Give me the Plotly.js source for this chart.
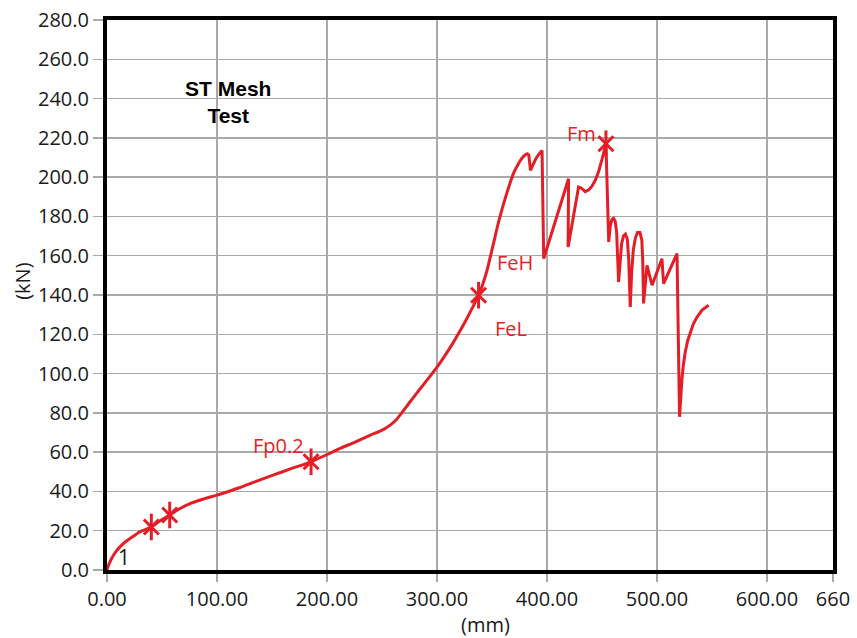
<!DOCTYPE html>
<html>
<head>
<meta charset="utf-8">
<script src="https://cdn.plot.ly/plotly-3.0.1.min.js"></script>
<style>
  html, body { margin: 0; padding: 0; background: #ffffff; }
  #chart { width: 857px; height: 638px; }
</style>
</head>
<body>
<div id="chart"></div>
<script>
// Force-extension curve of the ST mesh tensile test
const extension = [
  0, 1, 3, 6, 9, 12, 16, 21, 26, 30, 35, 40.3, 48, 57, 66, 76, 88, 100, 110, 121,
  135, 151.5, 168, 185.5, 200, 212, 225, 238, 251.5, 258, 263, 268, 274, 281.8,
  290, 300, 308, 315, 321, 327.3, 332, 337.8, 341, 345.5, 348.5, 351.5, 355, 359,
  363, 366.6, 370, 374.2, 377, 380, 383.3, 385, 387, 390, 393, 395.5, 397,
  419.6, 419.2, 428.7, 431, 434.8, 438, 441, 444, 447, 450, 453.6,
  456.1, 457.5, 459, 460.5, 462, 463.3, 465.1,
  466.3, 467.8, 469.5, 471.3, 473, 474.3, 475.7,
  477, 478.5, 480.3, 482.3, 484.5, 486.2, 487, 487.8,
  489.5, 490.9, 495.5, 504.5, 506, 518.2, 520.5,
  521.5, 522.7, 524, 525.7, 528, 530.3, 533, 536.4, 541, 546.9
];
const force = [
  0, 1.8, 4.5, 7.6, 10, 11.9, 14, 16.1, 18, 19.5, 20.6, 21.9, 25, 28, 31.2, 33.9, 36.2, 38.1, 39.9, 42.0,
  45.0, 48.4, 51.7, 55.1, 58.8, 61.9, 65, 68.3, 71.6, 74, 76.5, 80, 84.5, 90.2,
  96, 103.3, 109.8, 116, 121.8, 128.2, 133.3, 139.9, 144.5, 152.6, 159.5, 166.5, 175, 183.5,
  191, 197.3, 202.5, 207, 209.5, 211.3, 212, 203.5, 206, 209.5, 212, 213.6, 158.5,
  199.2, 164.4, 195, 194.5, 192.6, 193.5, 195.5, 198.5, 203, 209, 217,
  167, 175, 178.5, 179, 177.5, 172, 146.6,
  158, 166, 170, 171, 168.5, 158, 133.9,
  152, 163, 169, 171.8, 171.8, 168, 158, 135.7,
  148, 155.1, 145, 158.5, 145.8, 161.1, 78,
  89, 97.5, 104.5, 111, 117, 121.2, 125.2, 128.8, 132.3, 134.8
];

// Characteristic points marked on the curve
const keyExtension = [40.3, 57, 185.5, 337.8, 453.6];
const keyForce = [21.9, 28, 55.1, 139.9, 217];

// Point labels
const labelText = ['Fp0.2', 'FeH', 'FeL', 'Fm'];
const labelX = [155.7, 370.9, 367.1, 431.8];
const labelY = [63.6, 156.7, 123.1, 222.3];

// Axis ticks
const xTickVals = [0, 100, 200, 300, 400, 500, 600, 660];
const xTickText = ['0.00', '100.00', '200.00', '300.00', '400.00', '500.00', '600.00', '660'];

const RED = '#e31e26';
const GRID = '#a9a9a9';
const INK = '#1a1a1a';
const BASEFONT = 'Open Sans, sans-serif';
const TICKFONT = { family: BASEFONT, size: 20, color: INK };

// The smooth loading branch is drawn as a spline; from the first yield
// peak on, the serrated branch is drawn with straight segments.
const split = extension.indexOf(383.3);

const traces = [
  {
    x: extension.slice(0, split + 1), y: force.slice(0, split + 1),
    type: 'scatter', mode: 'lines',
    line: { color: RED, width: 3, shape: 'spline', smoothing: 1 },
    hoverinfo: 'x+y', showlegend: false
  },
  {
    x: extension.slice(split), y: force.slice(split),
    type: 'scatter', mode: 'lines',
    line: { color: RED, width: 3, shape: 'linear' },
    hoverinfo: 'x+y', showlegend: false
  },
  {
    x: keyExtension, y: keyForce, type: 'scatter', mode: 'markers',
    marker: { symbol: 'x-thin-open', size: 15, color: RED, line: { color: RED, width: 3 } },
    showlegend: false, hoverinfo: 'skip'
  },
  {
    x: keyExtension, y: keyForce, type: 'scatter', mode: 'markers',
    marker: { symbol: 'line-ns-open', size: 19, color: RED, line: { color: RED, width: 3 } },
    showlegend: false, hoverinfo: 'skip'
  }
];

const annotations = labelText.map((t, i) => ({
  text: t, x: labelX[i], y: labelY[i], xref: 'x', yref: 'y',
  showarrow: false, xanchor: 'center', yanchor: 'middle',
  font: { family: BASEFONT, size: 20, color: RED }
}));

// curve number tag near the origin
annotations.push({
  text: '1', x: 15.3, y: 6.6, xref: 'x', yref: 'y',
  showarrow: false, xanchor: 'center', yanchor: 'middle',
  font: { family: BASEFONT, size: 21, color: INK }
});

// axis titles
annotations.push({
  text: '(kN)', x: -0.116, y: (570 - 281) / 550, xref: 'paper', yref: 'paper',
  showarrow: false, textangle: -90, xanchor: 'center', yanchor: 'middle',
  font: { family: BASEFONT, size: 20, color: INK }
});
annotations.push({
  text: '(mm)', x: (485 - 107) / 726, y: -(624 - 570) / 550, xref: 'paper', yref: 'paper',
  showarrow: false, xanchor: 'center', yanchor: 'middle',
  font: { family: BASEFONT, size: 20, color: INK }
});

const layout = {
  width: 857, height: 638,
  margin: { l: 107, r: 24, t: 20, b: 68 },
  paper_bgcolor: '#ffffff', plot_bgcolor: '#ffffff',
  title: {
    text: '<b>ST Mesh<br>Test</b>',
    x: 0.167, xref: 'paper', xanchor: 'center',
    y: 0.85, yref: 'container', yanchor: 'middle',
    font: { family: 'Liberation Sans, Arial, sans-serif', size: 21, color: '#000000' }
  },
  xaxis: {
    range: [0, 660], tickmode: 'array', tickvals: xTickVals, ticktext: xTickText,
    showgrid: true, gridcolor: GRID, gridwidth: 1.5, zeroline: false,
    showline: true, linecolor: '#000000', linewidth: 4, mirror: true,
    ticks: 'outside', ticklen: 8, tickcolor: GRID, tickwidth: 1.5,
    tickfont: TICKFONT
  },
  yaxis: {
    range: [0, 280], dtick: 20, tick0: 0, tickformat: '.1f',
    showgrid: true, gridcolor: GRID, gridwidth: 1.5, zeroline: false,
    showline: true, linecolor: '#000000', linewidth: 4, mirror: true,
    ticks: 'outside', ticklen: 10, tickcolor: GRID, tickwidth: 1.5,
    tickfont: TICKFONT
  },
  annotations: annotations
};

Plotly.newPlot('chart', traces, layout, { displayModeBar: false, staticPlot: true });
</script>
</body>
</html>
